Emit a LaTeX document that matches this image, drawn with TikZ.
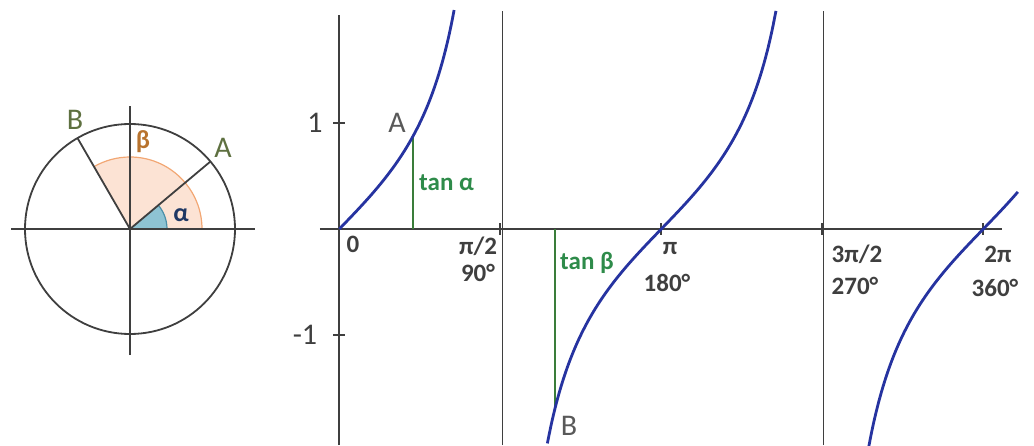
\documentclass[tikz,border=0pt]{standalone}
\usepackage{fontspec}
\setmainfont{Carlito}
\usetikzlibrary{calc}
\definecolor{Curve}{HTML}{2633A0}
\definecolor{Axis}{HTML}{3F3F3F}
\definecolor{Leaf}{HTML}{3A7D3A}
\definecolor{LeafText}{HTML}{2E8B4A}
\definecolor{Olive}{HTML}{5E7040}
\definecolor{Slate}{HTML}{595959}
\definecolor{Rust}{HTML}{B8732E}
\definecolor{Navy}{HTML}{1F3864}
\definecolor{Sky}{HTML}{8EC3D3}
\definecolor{SkyLine}{HTML}{4A8FA8}
\definecolor{Peach}{HTML}{FCE3D4}
\definecolor{Apricot}{HTML}{F2A774}

\begin{document}
\begin{tikzpicture}[x=1pt,y=1pt,
  axis/.style={draw=Axis,line width=1.8pt},
  guide/.style={draw=Axis,line width=1.1pt},
  tanline/.style={draw=Leaf,line width=2.2pt},
  curve/.style={draw=Curve,line width=2.8pt,smooth,samples=60},
  pt/.style={font=\fontsize{30}{32}\selectfont,inner sep=0pt},
  val/.style={font=\bfseries\fontsize{25}{27}\selectfont,text=Axis,inner sep=0pt}]
\useasboundingbox (0,0) rectangle (1034,445);
% unit circle
\coordinate (O) at (130,216);
\coordinate (A) at ($(O)+(40:105)$);
\coordinate (B) at ($(O)+(120:105)$);
\fill[Peach] (O) -- ++(0:72) arc (0:120:72) -- cycle;
\draw[Apricot,line width=1.2pt] ($(O)+(0:72)$) arc (0:120:72);
\fill[Sky] (O) -- ++(0:37) arc (0:40:37) -- cycle;
\draw[SkyLine,line width=1.2pt] ($(O)+(0:37)$) arc (0:40:37);
\draw[axis] (O) circle (105);
\draw[axis] (11,216) -- (255,216);
\draw[axis] (130,90) -- (130,339);
\draw[axis] (O) -- (A);
\draw[axis] (O) -- (B);
\node[pt,text=Olive] (cB) at (75,325) {B};
\node[pt,text=Olive] (cA) at (223,297) {A};
\node[font=\bfseries\fontsize{26}{28}\selectfont,text=Rust,inner sep=0pt] (beta) at (143,303) {β};
\node[font=\bfseries\fontsize{26}{28}\selectfont,text=Navy,inner sep=0pt] (alpha) at (181,230) {α};
% graph of tan
\draw[guide] (502.3,0) -- (502.3,434);
\draw[guide] (823.3,0) -- (823.3,434);
\begin{scope}[shift={(339.3,216)},x=102.5pt,y=106pt]
\draw[axis] (-0.19,0) -- (6.47,0);
\draw[axis] (0,-2.04) -- (0,2.02);
\foreach \k in {1,2,3,4}
  \draw[axis] ({\k*pi/2},0) ++(0,-6pt) -- ++(0,12pt);
\foreach \v in {1,-1}
  \draw[axis] (0,\v) ++(-6pt,0) -- ++(12pt,0);
\coordinate (ta0) at (0.72,0);
\coordinate (ta1) at (0.72,{tan(0.72 r)});
\coordinate (tb0) at (2.104,0);
\coordinate (tb1) at (2.104,{tan(2.104 r)});
\draw[tanline] (ta0) -- (ta1);
\draw[tanline] (tb0) -- (tb1);
\draw[curve] plot[domain=0:1.12] (\x,{tan(\x r)});
\draw[curve] plot[domain=2.03:4.26] (\x,{tan(\x r)});
\draw[curve] plot[domain=5.165:6.62] (\x,{tan(\x r)});
\end{scope}
\node[pt,text=Axis] (one) at (315,322) {1};
\node[pt,text=Axis] (mone) at (305,110) {-1};
\node[pt,text=Slate] (gA) at (397,322) {A};
\node[pt,text=Slate] (gB) at (569,19) {B};
\node[val,text=LeafText,anchor=west] (tana) at (419,262) {tan α};
\node[val,text=LeafText,anchor=west] (tanb) at (560,182) {tan β};
\node[val] (x0) at (353,201) {0};
\node[val] (x1) at (478,199) {π/2};
\node[val] (d1) at (478,172) {90°};
\node[val] (x2) at (670,196) {π};
\node[val] (d2) at (667,162) {180°};
\node[val] (x3) at (857,191) {3π/2};
\node[val] (d3) at (855,159) {270°};
\node[val] (x4) at (998,191) {2π};
\node[val] (d4) at (995,157) {360°};
\end{tikzpicture}
\end{document}
